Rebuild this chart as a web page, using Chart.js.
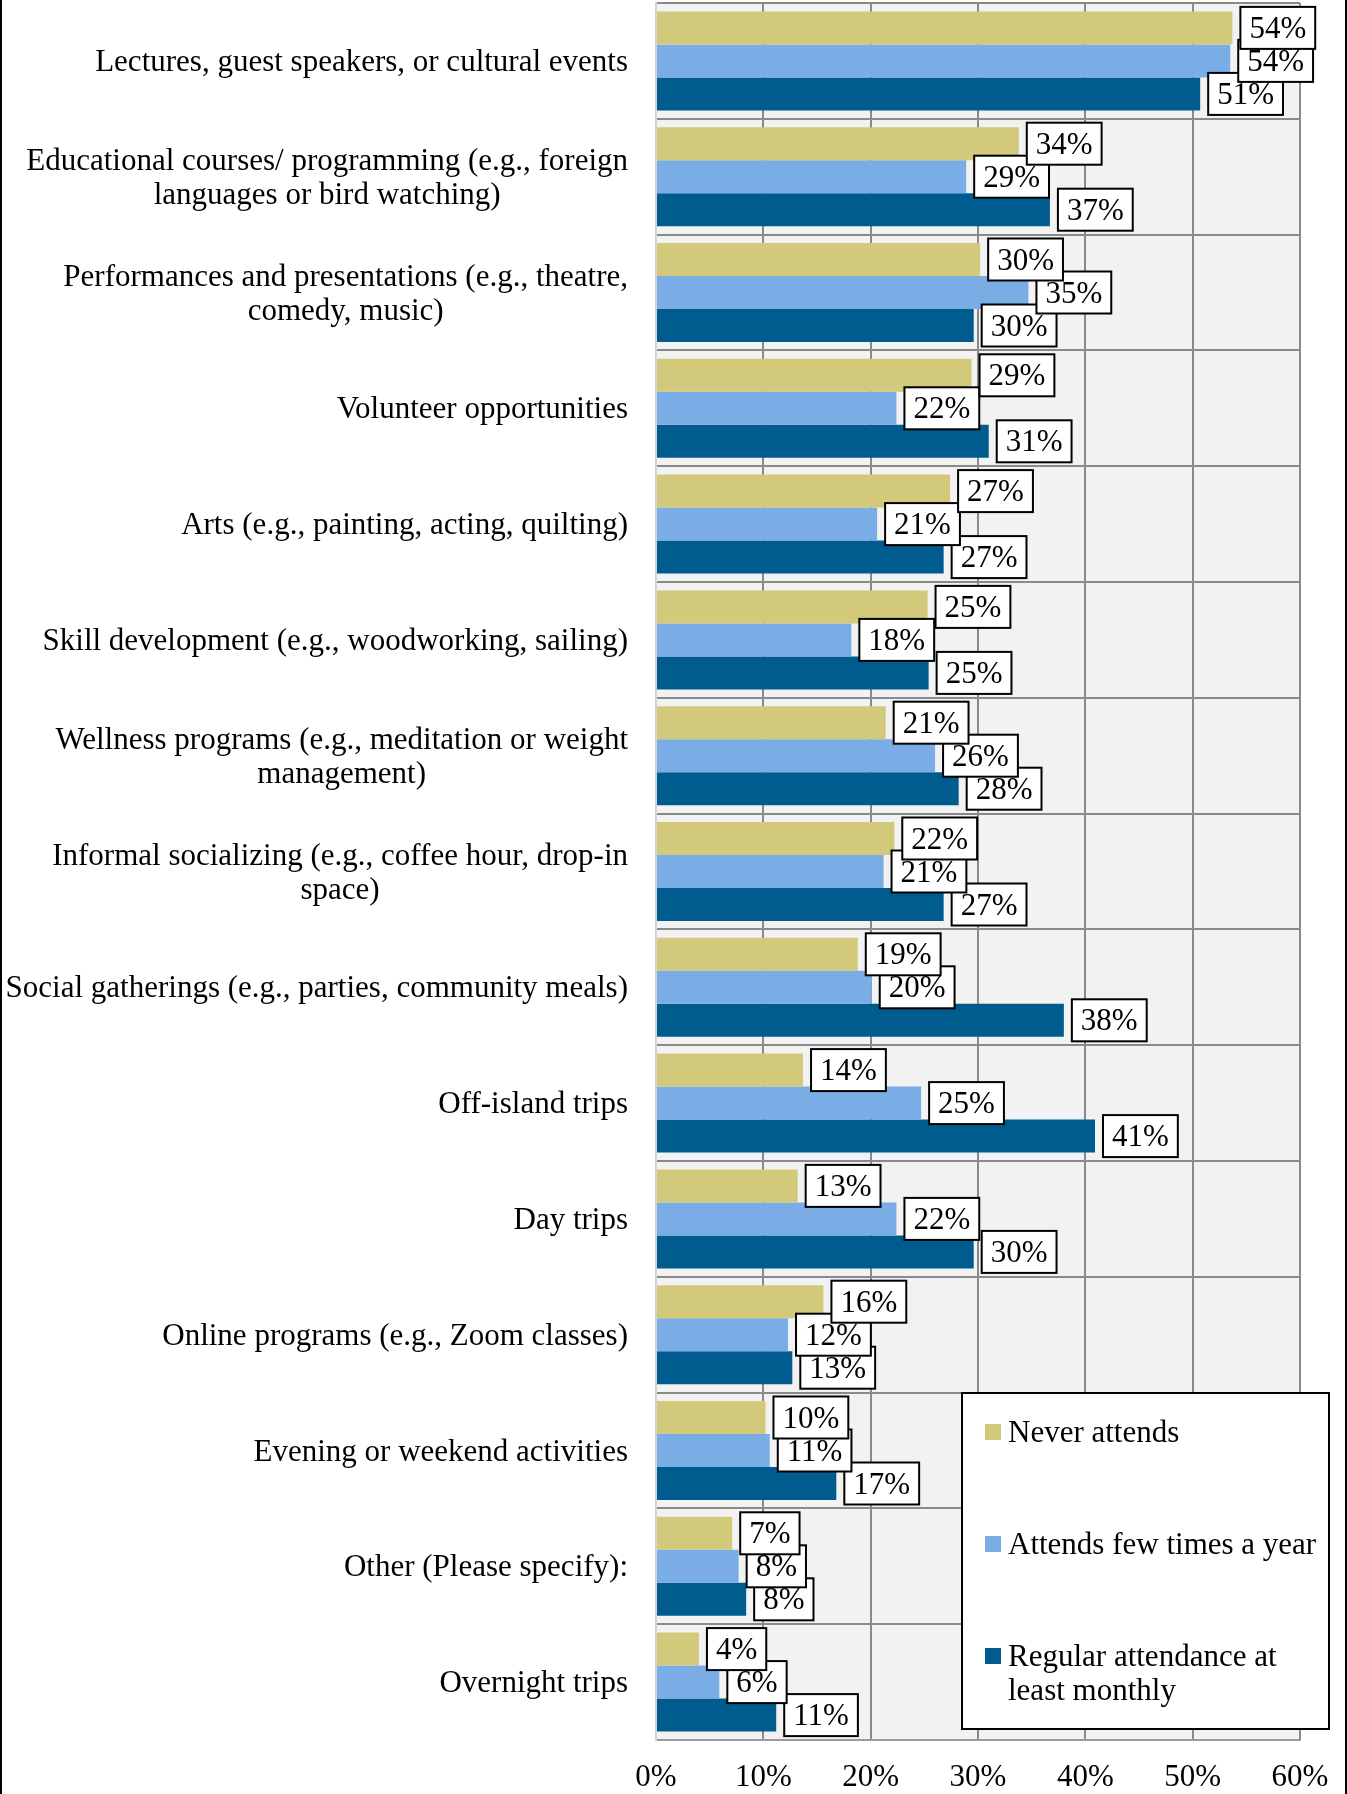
<!DOCTYPE html>
<html>
<head>
<meta charset="utf-8">
<script src="https://cdn.jsdelivr.net/npm/chart.js@4.4.1/dist/chart.umd.min.js"></script>
<style>
  html, body { margin: 0; padding: 0; background: #ffffff; }
  #wrap { position: relative; width: 1347px; height: 1794px; overflow: hidden; }
  canvas { display: block; }
</style>
</head>
<body>
<div id="wrap"><canvas id="c" width="1347" height="1794"></canvas></div>
<script>
// ---- Data ----
const categories = [
  "Lectures, guest speakers, or cultural events",
  ["Educational courses/ programming (e.g., foreign", "languages or bird watching)"],
  ["Performances and presentations (e.g., theatre,", "comedy, music)"],
  "Volunteer opportunities",
  "Arts (e.g., painting, acting, quilting)",
  "Skill development (e.g., woodworking, sailing)",
  ["Wellness programs (e.g., meditation or weight", "management)"],
  ["Informal socializing (e.g., coffee hour, drop-in", "space)"],
  "Social gatherings (e.g., parties, community meals)",
  "Off-island trips",
  "Day trips",
  "Online programs (e.g., Zoom classes)",
  "Evening or weekend activities",
  "Other (Please specify):",
  "Overnight trips"
];
const seriesNames = ["Never attends", "Attends few times a year", "Regular attendance at least monthly"];
const neverAttends   = [53.7, 33.8, 30.2, 29.4, 27.4, 25.3, 21.4, 22.2, 18.8, 13.7, 13.2, 15.6, 10.2, 7.1, 4.0];
const fewTimesYear   = [53.5, 28.9, 34.7, 22.4, 20.6, 18.2, 26.0, 21.2, 20.1, 24.7, 22.4, 12.3, 10.6, 7.7, 5.9];
const regularMonthly = [50.7, 36.7, 29.6, 31.0, 26.8, 25.4, 28.2, 26.8, 38.0, 40.9, 29.6, 12.7, 16.8, 8.4, 11.2];
const xTickValues = [0, 10, 20, 30, 40, 50, 60];
const seriesColors = ["#D3C97A", "#7AADE6", "#005B8E"];

const FONT = "'Liberation Serif', 'Times New Roman', serif";
const FS = 31;

Chart.defaults.font.family = FONT;
Chart.defaults.font.size = FS;
Chart.defaults.color = "#000000";

const plotBg = {
  id: "plotBg",
  beforeDraw(chart) {
    const { ctx, chartArea: a } = chart;
    ctx.save();
    ctx.fillStyle = "#F2F2F2";
    ctx.fillRect(a.left, a.top, a.right - a.left, a.bottom - a.top);
    ctx.restore();
  }
};

const catLabels = {
  id: "catLabels",
  afterDraw(chart) {
    const { ctx } = chart;
    const ys = chart.scales.y;
    const right = ys.right - 28;
    const lh = 34;
    ctx.save();
    ctx.font = FS + "px " + FONT;
    ctx.fillStyle = "#000";
    ctx.textBaseline = "middle";
    chart.data.labels.forEach((lab, i) => {
      const y = ys.getPixelForValue(i) + 2;
      const lines = Array.isArray(lab) ? lab : [lab];
      const n = lines.length;
      if (n === 1) {
        ctx.textAlign = "right";
        ctx.fillText(lines[0], right, y);
      } else {
        const maxW = Math.max(...lines.map(l => ctx.measureText(l).width));
        ctx.textAlign = "center";
        lines.forEach((l, j) => ctx.fillText(l, right - maxW / 2, y + (j - (n - 1) / 2) * lh));
      }
    });
    ctx.restore();
  }
};

const valueBoxes = {
  id: "valueBoxes",
  afterDatasetsDraw(chart) {
    const { ctx } = chart;
    ctx.save();
    ctx.font = FS + "px " + FONT;
    ctx.textAlign = "center";
    ctx.textBaseline = "middle";
    for (let d = chart.data.datasets.length - 1; d >= 0; d--) {
      const meta = chart.getDatasetMeta(d);
      const vals = chart.data.datasets[d].data;
      meta.data.forEach((el, i) => {
        const txt = Math.round(vals[i]) + "%";
        const w = ctx.measureText(txt).width + 18;
        const h = 42;
        const bx = el.x + 8, by = el.y - h / 2;
        ctx.fillStyle = "#FFFFFF";
        ctx.fillRect(bx, by, w, h);
        ctx.strokeStyle = "#000000";
        ctx.lineWidth = 2;
        ctx.strokeRect(bx, by, w, h);
        ctx.fillStyle = "#000000";
        ctx.fillText(txt, bx + w / 2, el.y + 2);
      });
    }
    ctx.restore();
  }
};

const boxLegend = {
  id: "boxLegend",
  afterDraw(chart) {
    const { ctx } = chart;
    const L = 962, T = 1393, W = 367, H = 336;
    ctx.save();
    ctx.fillStyle = "#FFFFFF";
    ctx.fillRect(L, T, W, H);
    ctx.strokeStyle = "#000000";
    ctx.lineWidth = 2;
    ctx.strokeRect(L, T, W, H);
    ctx.font = FS + "px " + FONT;
    ctx.textAlign = "left";
    ctx.textBaseline = "middle";
    const centers = [1432, 1544, 1656];
    const maxW = 326;
    chart.data.datasets.forEach((ds, d) => {
      const cy = centers[d];
      ctx.fillStyle = ds.backgroundColor;
      ctx.fillRect(985, cy - 8, 16, 16);
      const words = ds.label.split(" ");
      const lines = [];
      let cur = "";
      words.forEach(wd => {
        const test = cur ? cur + " " + wd : wd;
        if (ctx.measureText(test).width > maxW && cur) { lines.push(cur); cur = wd; }
        else cur = test;
      });
      if (cur) lines.push(cur);
      ctx.fillStyle = "#000";
      lines.forEach((l, j) => ctx.fillText(l, 1008, cy + 2 + j * 34));
    });
    ctx.restore();
  }
};

const pageBorders = {
  id: "pageBorders",
  afterDraw(chart) {
    const { ctx } = chart;
    ctx.save();
    ctx.fillStyle = "#000";
    ctx.fillRect(0, 0, 2, chart.height);
    ctx.fillRect(chart.width - 2, 0, 2, chart.height);
    ctx.restore();
  }
};

new Chart(document.getElementById("c"), {
  type: "bar",
  data: {
    labels: categories,
    datasets: [
      { label: seriesNames[0], data: neverAttends,   backgroundColor: seriesColors[0] },
      { label: seriesNames[1], data: fewTimesYear,   backgroundColor: seriesColors[1] },
      { label: seriesNames[2], data: regularMonthly, backgroundColor: seriesColors[2] }
    ]
  },
  options: {
    indexAxis: "y",
    responsive: false,
    animation: false,
    devicePixelRatio: 1,
    layout: { padding: { top: 3, right: 47, left: 0, bottom: 0 } },
    datasets: { bar: { categoryPercentage: 0.855, barPercentage: 1.0, borderWidth: 0 } },
    plugins: { legend: { display: false }, tooltip: { enabled: false }, title: { display: false } },
    scales: {
      x: {
        min: xTickValues[0],
        max: xTickValues[xTickValues.length - 1],
        afterBuildTicks(scale) { scale.ticks = xTickValues.map(v => ({ value: v })); },
        afterFit(scale) { scale.height = 54; },
        ticks: {
          padding: 8,
          color: "#000",
          font: { family: FONT, size: FS, lineHeight: 1.95 },
          callback: v => v + "%"
        },
        grid: {
          color: c => (c.index === 0 ? "rgba(0,0,0,0)" : "#8A8A8A"),
          lineWidth: 2,
          drawTicks: false
        },
        border: { display: true, color: "#9A9A9A", width: 2 }
      },
      y: {
        afterFit(scale) { scale.width = 656; },
        ticks: { display: false },
        grid: { color: "#8A8A8A", lineWidth: 2, drawTicks: false, offset: true },
        border: { display: true, color: "#D4D4D4", width: 2 }
      }
    }
  },
  plugins: [plotBg, valueBoxes, catLabels, boxLegend, pageBorders]
});
</script>
</body>
</html>
